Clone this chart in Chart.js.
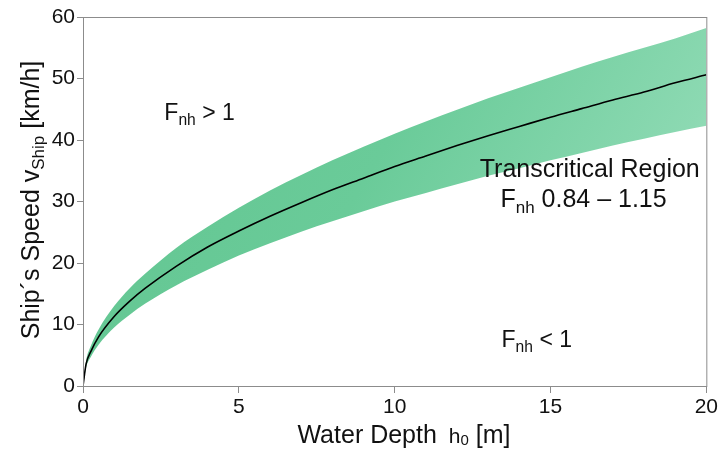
<!DOCTYPE html>
<html>
<head>
<meta charset="utf-8">
<script src="https://cdn.jsdelivr.net/npm/chart.js@4"></script>
<style>
  html, body { margin: 0; padding: 0; background: #fff; }
  #wrap { width: 720px; height: 453px; }
</style>
</head>
<body>
<div id="wrap"><canvas id="chart"></canvas></div>
<script>
// water depth h0 [m]
const depths = [0, 0.1, 0.25, 0.5, 1, 1.5, 2, 3, 4, 5, 6, 7, 8, 9, 10, 11, 12, 13, 14, 15, 16, 17, 18, 19, 20];
// ship speed at Fnh = 1 [km/h]
const speedMid = [0, 3.6, 5.6, 8.0, 11.3, 13.8, 15.9, 19.5, 22.6, 25.2, 27.6, 29.8, 31.9, 33.8, 35.7, 37.4, 39.1, 40.7, 42.2, 43.7, 45.1, 46.5, 47.8, 49.3, 50.6];
// upper bound of the transcritical band (Fnh 1.15)
const speedUpper = [0, 4.1, 6.5, 9.2, 13.0, 15.9, 18.3, 22.5, 25.9, 29.0, 31.8, 34.3, 36.7, 38.9, 41.0, 43.0, 44.9, 46.8, 48.5, 50.2, 51.9, 53.5, 55.0, 56.5, 58.2];
// lower bound of the transcritical band (Fnh 0.84)
const speedLower = [0, 3.0, 4.7, 6.7, 9.5, 11.6, 13.4, 16.4, 18.9, 21.2, 23.2, 25.1, 26.8, 28.4, 30.0, 31.4, 32.8, 34.2, 35.4, 36.7, 37.9, 39.1, 40.2, 41.3, 42.3];
const xTicks = [0, 5, 10, 15, 20];
const yTicks = [0, 10, 20, 30, 40, 50, 60];

const FONT = '"Liberation Sans", Arial, sans-serif';
const AXIS_GREY = '#8c8c8c';

function pts(ys) {
  return depths.map((h, i) => ({ x: h, y: ys[i] }));
}

function bandFill(context) {
  const chart = context.chart;
  const area = chart.chartArea;
  if (!area) return 'rgba(100,200,150,0.8)';
  const g = chart.ctx.createLinearGradient(area.left, area.top, area.right, area.bottom);
  g.addColorStop(0, 'rgb(96,196,143)');
  g.addColorStop(0.45, 'rgb(106,203,153)');
  g.addColorStop(0.8, 'rgb(140,217,178)');
  g.addColorStop(1, 'rgb(185,234,210)');
  return g;
}

// centred text built from parts: [text, size, dy, gapAfter]
function drawParts(ctx, parts, x, y) {
  let total = 0;
  parts.forEach(p => {
    ctx.font = p[1] + 'px ' + FONT;
    total += ctx.measureText(p[0]).width + (p[3] || 0);
  });
  let cx = x - total / 2;
  ctx.textAlign = 'left';
  ctx.textBaseline = 'alphabetic';
  parts.forEach(p => {
    ctx.font = p[1] + 'px ' + FONT;
    ctx.fillText(p[0], cx, y + (p[2] || 0));
    cx += ctx.measureText(p[0]).width + (p[3] || 0);
  });
}

// "F_nh ..." style label
function fnh(size, rest) {
  return [['F', size], ['nh', size * 0.68, size * 0.22], [rest, size]];
}

const decorations = {
  id: 'decorations',
  afterDraw(chart) {
    const ctx = chart.ctx;
    const a = chart.chartArea;
    const xs = chart.scales.x, ys = chart.scales.y;
    ctx.save();
    // frame
    ctx.strokeStyle = AXIS_GREY;
    ctx.lineWidth = 1;
    ctx.strokeRect(a.left + 0.5, a.top + 0.5, a.right - a.left, a.bottom - a.top);
    ctx.fillStyle = '#111';
    // region labels
    drawParts(ctx, fnh(23, ' > 1'), xs.getPixelForValue(3.74), ys.getPixelForValue(43.2));
    drawParts(ctx, [['Transcritical Region', 25]], xs.getPixelForValue(16.26), ys.getPixelForValue(34.0));
    drawParts(ctx, fnh(25, ' 0.84 \u2013 1.15'), xs.getPixelForValue(16.06), ys.getPixelForValue(29.1));
    drawParts(ctx, fnh(23, ' < 1'), xs.getPixelForValue(14.56), ys.getPixelForValue(6.3));
    // x title
    drawParts(ctx, [['Water Depth', 25, 0, 12], ['h', 21], ['0', 15, 2], [' [m]', 25]], 404, 443);
    // y title (rotated)
    ctx.translate(39, 200);
    ctx.rotate(-Math.PI / 2);
    drawParts(ctx, [['Ship\u00b4s Speed v', 25], ['Ship', 17, 5], [' [km/h]', 25]], 0, 0);
    ctx.restore();
  }
};

new Chart(document.getElementById('chart'), {
  type: 'line',
  data: {
    datasets: [
      {
        label: 'Fnh 1.15',
        data: pts(speedUpper),
        borderWidth: 0,
        pointRadius: 0,
        backgroundColor: bandFill,
        fill: '+1',
        cubicInterpolationMode: 'monotone',
        order: 2
      },
      {
        label: 'Fnh 0.84',
        data: pts(speedLower),
        borderWidth: 0,
        pointRadius: 0,
        fill: false,
        cubicInterpolationMode: 'monotone',
        order: 2
      },
      {
        label: 'Fnh 1',
        data: pts(speedMid),
        borderColor: '#000',
        borderWidth: 1.6,
        pointRadius: 0,
        fill: false,
        cubicInterpolationMode: 'monotone',
        order: 0
      }
    ]
  },
  options: {
    responsive: true,
    maintainAspectRatio: false,
    animation: false,
    layout: { padding: { top: 17, right: 12, left: 0, bottom: 0 } },
    plugins: {
      legend: { display: false },
      tooltip: { enabled: false }
    },
    scales: {
      x: {
        type: 'linear',
        min: 0,
        max: 20,
        afterBuildTicks: s => { s.ticks = xTicks.map(v => ({ value: v })); },
        afterFit: s => { s.height = 67; },
        grid: { drawOnChartArea: false, drawTicks: true, tickLength: 7, color: AXIS_GREY },
        border: { display: true, color: AXIS_GREY },
        ticks: { color: '#111', font: { family: FONT, size: 21 }, padding: 2, maxRotation: 0 }
      },
      y: {
        type: 'linear',
        min: 0,
        max: 60,
        afterBuildTicks: s => { s.ticks = yTicks.map(v => ({ value: v })); },
        afterFit: s => { s.width = 83; },
        grid: { drawOnChartArea: false, drawTicks: true, tickLength: 6, color: AXIS_GREY },
        border: { display: true, color: AXIS_GREY },
        ticks: { color: '#111', font: { family: FONT, size: 21 }, padding: 2 }
      }
    }
  },
  plugins: [decorations]
});
</script>
</body>
</html>
